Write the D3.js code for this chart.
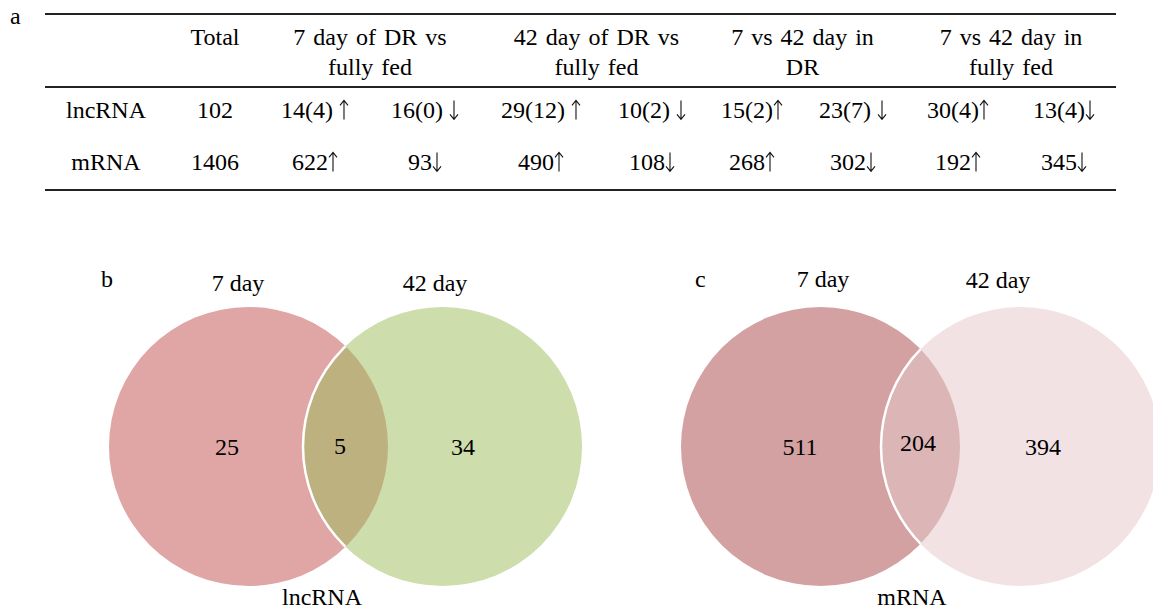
<!DOCTYPE html>
<html>
<head>
<meta charset="utf-8">
<script src="https://cdn.jsdelivr.net/npm/d3@7"></script>
<style>
    body { margin: 0; background: #fff; }
    svg text { font-family: "Liberation Serif", "Times New Roman", serif; fill: #000; }
</style>
</head>
<body>
<div id="chart"></div>
<script>
// ---- table data ----
const rowNames   = ["lncRNA", "mRNA"];
const totals     = [102, 1406];
const comparisons = [
    ["7 day of DR vs", "fully fed"],
    ["42 day of DR vs", "fully fed"],
    ["7 vs 42 day in", "DR"],
    ["7 vs 42 day in", "fully fed"]
];
const lncRNACells = ["14(4) \u2191", "16(0) \u2193", "29(12) \u2191", "10(2) \u2193", "15(2)\u2191", "23(7) \u2193", "30(4)\u2191", "13(4)\u2193"];
const mRNACells   = ["622\u2191", "93\u2193", "490\u2191", "108\u2193", "268\u2191", "302\u2193", "192\u2191", "345\u2193"];

// ---- venn data ----
const vennSets    = ["7 day", "42 day"];
const lncCounts   = [25, 5, 34];     // only 7 day, both, only 42 day
const mrnaCounts  = [511, 204, 394];

const width = 1153, height = 609;
const fontSize = 24;

const svg = d3.select("#chart").append("svg")
    .attr("width", width)
    .attr("height", height);

// ---------------- table (a) ----------------
let subKeys = d3.range(8);
let subX = d3.scaleOrdinal()
    .domain(subKeys)
    .range([315, 425, 541, 652, 752, 853, 958, 1064]);

let rowY = d3.scaleOrdinal()
    .domain(["h1", "h2", "lncRNA", "mRNA"])
    .range([37, 67, 110, 162]);

let labelX = 106, totalX = 215;

svg.append("text")
    .attr("x", 10).attr("y", 24)
    .style("font-size", fontSize + "px")
    .text("a");

// rules
[14, 87, 190].forEach(y => {
    svg.append("line")
        .attr("x1", 45).attr("x2", 1116)
        .attr("y1", y).attr("y2", y)
        .attr("stroke", "#222")
        .attr("stroke-width", 2);
});

let table = svg.append("g").attr("class", "table");

// header
table.append("text")
    .attr("x", totalX).attr("y", rowY("h1"))
    .attr("dy", "0.35em")
    .attr("text-anchor", "middle")
    .style("font-size", fontSize + "px")
    .text("Total");

comparisons.forEach((lines, i) => {
    let cx = (subX(i * 2) + subX(i * 2 + 1)) / 2;
    lines.forEach((line, j) => {
        table.append("text")
            .attr("x", cx)
            .attr("y", rowY(j === 0 ? "h1" : "h2"))
            .attr("dy", "0.35em")
            .attr("text-anchor", "middle")
            .style("font-size", fontSize + "px")
            .style("word-spacing", "2px")
            .text(line);
    });
});

// body cells: number text + thin tall arrow drawn as a path
const arrowW = 10, arrowH = 19, headW = 4, headH = 5;
function drawCell(g, d, cx, baseline) {
    let num = d.slice(0, -1), up = d.slice(-1) === "\u2191";
    let numText = g.append("text")
        .attr("y", baseline)
        .style("font-size", fontSize + "px")
        .style("white-space", "pre")
        .text(num);
    let numW = numText.node().getComputedTextLength();
    let x0 = cx - (numW + arrowW) / 2;
    numText.attr("x", x0);

    let ax = x0 + numW + arrowW / 2;
    let top = baseline - arrowH + 1, bot = baseline + 1;
    let tip = up ? top : bot, dir = up ? 1 : -1;
    g.append("path")
        .attr("d", `M${ax},${top}V${bot}M${ax - headW},${tip + dir * headH}L${ax},${tip}L${ax + headW},${tip + dir * headH}`)
        .attr("fill", "none")
        .attr("stroke", "#111")
        .attr("stroke-width", 1.1);
}

let rowCells = [lncRNACells, mRNACells];
rowNames.forEach((name, r) => {
    let y = rowY(name);
    table.append("text")
        .attr("x", labelX).attr("y", y).attr("dy", "0.35em")
        .attr("text-anchor", "middle")
        .style("font-size", fontSize + "px")
        .text(name);
    table.append("text")
        .attr("x", totalX).attr("y", y).attr("dy", "0.35em")
        .attr("text-anchor", "middle")
        .style("font-size", fontSize + "px")
        .text(totals[r]);

    rowCells[r].forEach((d, i) => {
        let g = table.append("g").attr("class", "cell-" + name);
        drawCell(g, d, subX(i), y + fontSize * 0.35);
    });
});

// ---------------- venn diagrams (b, c) ----------------
function drawVenn(opts) {
    let g = svg.append("g");
    let r = opts.radius;
    let c1 = opts.cx - opts.dist / 2, c2 = opts.cx + opts.dist / 2;
    let cy = opts.cy;

    let clipId = "clip-" + opts.id;
    g.append("clipPath").attr("id", clipId)
        .append("circle").attr("cx", c1).attr("cy", cy).attr("r", r);

    g.append("circle").attr("cx", c1).attr("cy", cy).attr("r", r).attr("fill", opts.colors[0]);
    g.append("circle").attr("cx", c2).attr("cy", cy).attr("r", r).attr("fill", opts.colors[1]);

    // overlap lens
    g.append("circle").attr("cx", c2).attr("cy", cy).attr("r", r)
        .attr("fill", opts.colors[2])
        .attr("clip-path", `url(#${clipId})`);
    // white edge of second set inside the first
    g.append("circle").attr("cx", c2).attr("cy", cy).attr("r", r)
        .attr("fill", "none")
        .attr("stroke", "#fff")
        .attr("stroke-width", 2.5)
        .attr("clip-path", `url(#${clipId})`);

    // region counts: centre of each region along the middle line
    let regionX = [
        (c1 - r + (c2 - r)) / 2,
        ((c2 - r) + (c1 + r)) / 2,
        ((c1 + r) + (c2 + r)) / 2
    ];
    g.selectAll(".count")
        .data(opts.counts)
        .enter()
        .append("text")
        .attr("class", "count")
        .attr("x", (d, i) => regionX[i] + opts.countShift[i])
        .attr("y", (d, i) => cy + opts.countDy[i])
        .attr("text-anchor", "middle")
        .style("font-size", fontSize + "px")
        .text(d => d);

    // set names
    g.selectAll(".setname")
        .data(vennSets)
        .enter()
        .append("text")
        .attr("class", "setname")
        .attr("x", (d, i) => opts.nameX[i])
        .attr("y", (d, i) => opts.nameY[i])
        .attr("text-anchor", "middle")
        .style("font-size", fontSize + "px")
        .text(d => d);

    g.append("text")
        .attr("x", opts.letterX).attr("y", 287)
        .style("font-size", fontSize + "px")
        .text(opts.letter);

    g.append("text")
        .attr("x", opts.titleX).attr("y", 605)
        .attr("text-anchor", "middle")
        .style("font-size", fontSize + "px")
        .text(opts.title);
}

drawVenn({
    id: "b", letter: "b", letterX: 101, title: "lncRNA", titleX: 322,
    cx: 345.5, cy: 446.5, dist: 194, radius: 139.5,
    colors: ["#e0a5a5", "#cdddab", "#bdb17f"],
    counts: lncCounts,
    countShift: [21, -5.5, -22],
    countDy: [8, 7, 8],
    nameX: [238, 435], nameY: [291, 291]
});

drawVenn({
    id: "c", letter: "c", letterX: 695, title: "mRNA", titleX: 912,
    cx: 920.5, cy: 446.5, dist: 200, radius: 139.5,
    colors: ["#d4a1a2", "#f2e2e3", "#dcb5b6"],
    counts: mrnaCounts,
    countShift: [19, -2.5, -17],
    countDy: [8, 4, 8],
    nameX: [823, 998], nameY: [287, 288]
});
</script>
</body>
</html>
